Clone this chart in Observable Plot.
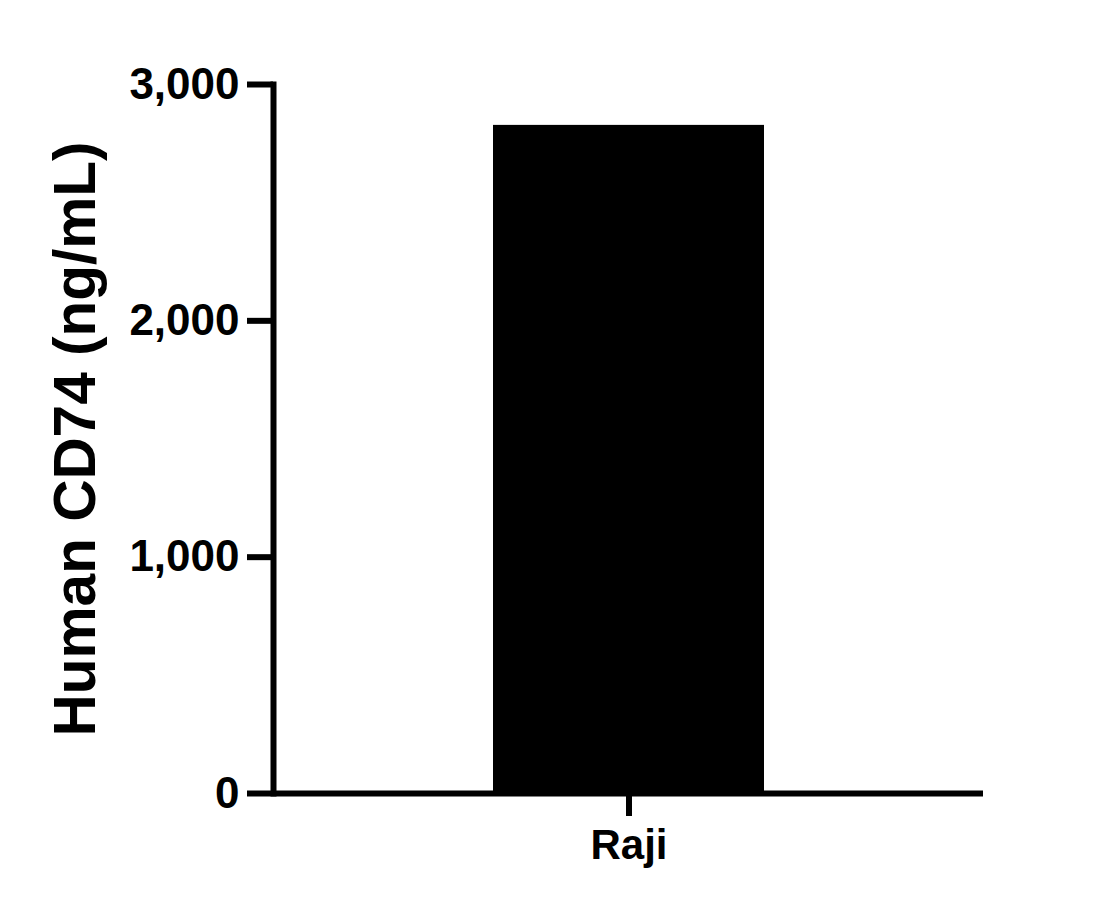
<!DOCTYPE html>
<html>
<head>
<meta charset="utf-8">
<script src="https://cdn.jsdelivr.net/npm/d3@7"></script>
<script src="https://cdn.jsdelivr.net/npm/@observablehq/plot@0.6"></script>
<style>
  html, body { margin: 0; padding: 0; background: #fff; }
</style>
</head>
<body>
<div id="chart"></div>
<script>
const categories = ["Raji"];
const values = [2827];
const yTicks = [0, 1000, 2000, 3000];
const yLabel = "Human CD74 (ng/mL)";

const data = categories.map((c, i) => ({category: c, value: values[i]}));

const chart = Plot.plot({
  width: 1115,
  height: 910,
  marginLeft: 273,
  marginRight: 132,
  marginTop: 84,
  marginBottom: 117,
  style: {fontFamily: "'Liberation Sans', Arial, sans-serif", fontWeight: "bold", color: "#000", background: "#fff"},
  x: {domain: categories, padding: 0.4475},
  y: {domain: [0, 3000]},
  marks: [
    Plot.barY(data, {x: "category", y: "value", fill: "#000"}),
    Plot.axisY(yTicks, {
      tickSize: 26, tickPadding: 8, strokeWidth: 6, fontSize: 44, fontWeight: "bold",
      tickFormat: d3.format(","), label: null
    }),
    Plot.axisX({
      tickSize: 23, tickPadding: 13, strokeWidth: 6, fontSize: 42, fontWeight: "bold", label: null
    }),
    Plot.frame({anchor: "left", strokeWidth: 6, stroke: "#000"}),
    Plot.ruleY([0], {strokeWidth: 6, stroke: "#000"}),
    Plot.text([yLabel], {
      frameAnchor: "left", dx: -197, rotate: -90, text: d => d,
      fontSize: 58.5, fontWeight: "bold", textAnchor: "middle", lineAnchor: "middle", fill: "#000"
    })
  ]
});
document.getElementById("chart").appendChild(chart);
</script>
</body>
</html>
